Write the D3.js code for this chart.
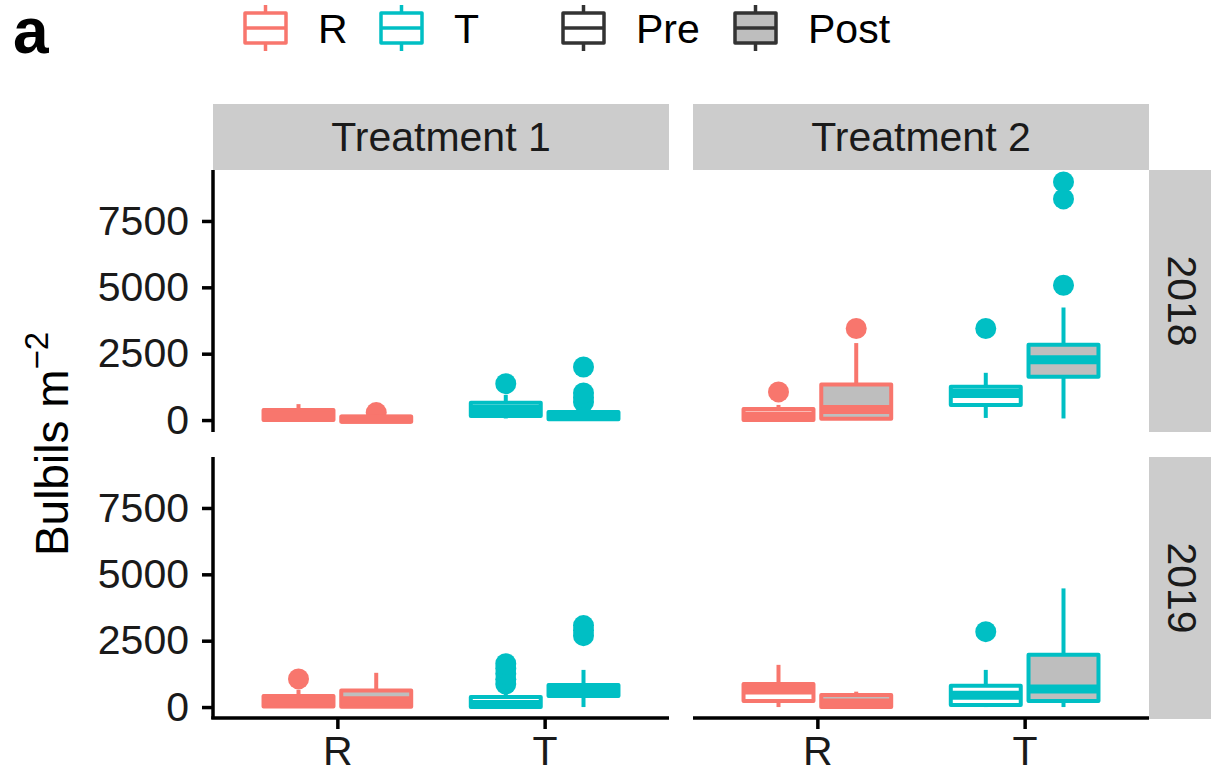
<!DOCTYPE html>
<html>
<head>
<meta charset="utf-8">
<script src="https://cdn.jsdelivr.net/npm/d3@7"></script>
<style>
  html, body { margin: 0; padding: 0; background: #fff; }
  svg { display: block; font-family: "Liberation Sans", Arial, sans-serif; }
</style>
</head>
<body>
<svg id="chart" width="1211" height="777"></svg>
<script>
// categories
const treatments = ["Treatment 1", "Treatment 2"];
const years = ["2018", "2019"];
const sites = ["R", "T"];
const periods = ["Pre", "Post"];
const yTicks = [0, 2500, 5000, 7500];

// box stats: [site, period, min, q1, median, q3, max, outliers]
const t1_2018 = [
  ["R", "Pre", 0, 0, 150, 380, 600, []],
  ["R", "Post", 0, -60, 30, 130, 200, [280]],
  ["T", "Pre", 60, 150, 400, 650, 950, [1370]],
  ["T", "Post", 0, 30, 150, 300, 550, [680, 850, 1020, 2000]]
];
const t2_2018 = [
  ["R", "Pre", 0, 0, 150, 420, 570, [1060]],
  ["R", "Post", 0, 50, 400, 1340, 2900, [3450]],
  ["T", "Pre", 80, 570, 1000, 1250, 1780, [3450]],
  ["T", "Post", 60, 1630, 2270, 2840, 4240, [5080, 8330, 8970]]
];
const t1_2019 = [
  ["R", "Pre", 0, 20, 200, 420, 650, [1060]],
  ["R", "Post", 0, 10, 240, 620, 1290, []],
  ["T", "Pre", 0, 0, 100, 380, 600, [870, 1050, 1250, 1450, 1630]],
  ["T", "Post", 0, 420, 600, 830, 1400, [2690, 2880, 3070]]
];
const t2_2019 = [
  ["R", "Pre", 0, 230, 640, 870, 1590, []],
  ["R", "Post", 0, 0, 150, 450, 580, []],
  ["T", "Pre", 0, 80, 440, 800, 1400, [2840]],
  ["T", "Post", 0, 230, 680, 1970, 4470, []]
];

const panels = [
  { col: 0, row: 0, data: t1_2018 },
  { col: 1, row: 0, data: t2_2018 },
  { col: 0, row: 1, data: t1_2019 },
  { col: 1, row: 1, data: t2_2019 }
];

const siteColor = { R: "#F8766D", T: "#00BFC4" };
const periodFill = { Pre: "#FFFFFF", Post: "#BEBEBE" };

const svg = d3.select("#chart");
const FONT = 41;

// layout
const colX = [213, 693], panelW = 456;
const rowY = [170, 457], panelH = 262;
const stripH = 66, stripW = 66;

// shared y scale, fixed to match the figure's range
const yDomain = [-450, 9420];

// strips
treatments.forEach((t, i) => {
  svg.append("rect")
    .attr("x", colX[i]).attr("y", rowY[0] - stripH)
    .attr("width", panelW).attr("height", stripH)
    .attr("fill", "#CCCCCC");
  svg.append("text")
    .attr("x", colX[i] + panelW / 2).attr("y", rowY[0] - stripH / 2)
    .attr("text-anchor", "middle").attr("dominant-baseline", "central")
    .attr("font-size", FONT).attr("fill", "#1A1A1A")
    .text(t);
});
years.forEach((yr, j) => {
  const sx = colX[1] + panelW;
  svg.append("rect")
    .attr("x", sx).attr("y", rowY[j])
    .attr("width", stripW).attr("height", panelH)
    .attr("fill", "#CCCCCC");
  svg.append("text")
    .attr("transform", `translate(${sx + stripW / 2}, ${rowY[j] + panelH / 2}) rotate(90)`)
    .attr("text-anchor", "middle").attr("dominant-baseline", "central")
    .attr("font-size", FONT).attr("fill", "#1A1A1A")
    .text(yr);
});

// panels
panels.forEach(p => {
  const g = svg.append("g").attr("transform", `translate(${colX[p.col]}, ${rowY[p.row]})`);
  const x = d3.scalePoint().domain(sites).range([0, panelW]).padding(0.6);
  const y = d3.scaleLinear().domain(yDomain).range([panelH, 0]);
  const dodge = d3.scaleBand().domain(periods).range([-0.375 * x.step(), 0.375 * x.step()]);
  const bw = dodge.bandwidth() * 0.9;

  p.data.forEach(d => {
    const [site, period, mn, q1, med, q3, mx, outs] = d;
    const cx = x(site) + dodge(period) + dodge.bandwidth() / 2;
    const col = siteColor[site];

    g.selectAll(null).data(outs).enter().append("circle")
      .attr("cx", cx).attr("cy", v => y(v)).attr("r", 10.5)
      .attr("fill", col);

    g.append("line")
      .attr("x1", cx).attr("x2", cx).attr("y1", y(q3)).attr("y2", y(mx))
      .attr("stroke", col).attr("stroke-width", 4);
    g.append("line")
      .attr("x1", cx).attr("x2", cx).attr("y1", y(q1)).attr("y2", y(mn))
      .attr("stroke", col).attr("stroke-width", 4);

    g.append("rect")
      .attr("x", cx - bw / 2).attr("width", bw)
      .attr("y", y(q3)).attr("height", Math.max(0, y(q1) - y(q3)))
      .attr("fill", periodFill[period])
      .attr("stroke", col).attr("stroke-width", 4)
      .attr("stroke-linejoin", "round");
    g.append("line")
      .attr("x1", cx - bw / 2).attr("x2", cx + bw / 2)
      .attr("y1", y(med)).attr("y2", y(med))
      .attr("stroke", col).attr("stroke-width", 9);
  });

  // y axis on left column
  if (p.col === 0) {
    const ay = g.append("g").call(d3.axisLeft(y).tickValues(yTicks).tickSize(11).tickPadding(13).tickFormat(d3.format("d")));
    ay.select(".domain").attr("d", `M0,0V${panelH}`).attr("stroke", "#000").attr("stroke-width", 3.5);
    ay.selectAll(".tick line").attr("stroke", "#000").attr("stroke-width", 3.5);
    ay.selectAll(".tick text").attr("font-size", FONT).attr("fill", "#1A1A1A")
      .attr("font-family", "Liberation Sans, Arial, sans-serif");
  }
  // x axis on bottom row
  if (p.row === 1) {
    const ax = g.append("g").attr("transform", `translate(0, ${panelH - 1})`)
      .call(d3.axisBottom(x).tickSize(11).tickPadding(7));
    ax.select(".domain").attr("d", `M${p.col === 0 ? -1.75 : 0},0H${panelW}`).attr("stroke", "#000").attr("stroke-width", 3.5);
    ax.selectAll(".tick line").attr("stroke", "#000").attr("stroke-width", 3.5);
    ax.selectAll(".tick text").attr("font-size", FONT).attr("fill", "#1A1A1A")
      .attr("font-family", "Liberation Sans, Arial, sans-serif");
  }
});

// y axis title
const yt = svg.append("text")
  .attr("transform", "translate(68, 444) rotate(-90)")
  .attr("text-anchor", "middle")
  .attr("font-size", 46).attr("fill", "#000");
yt.append("tspan").text("Bulbils m");
yt.append("tspan").attr("dy", -20).attr("font-size", 33).text("\u22122");

// panel tag
svg.append("text")
  .attr("x", 13).attr("y", 53)
  .attr("font-size", 64).attr("font-weight", "bold").attr("fill", "#000")
  .text("a");

// legend
const legendItems = [
  { label: "R", stroke: siteColor.R, fill: "#FFFFFF", x: 243 },
  { label: "T", stroke: siteColor.T, fill: "#FFFFFF", x: 379 },
  { label: "Pre", stroke: "#333333", fill: "#FFFFFF", x: 561 },
  { label: "Post", stroke: "#333333", fill: periodFill.Post, x: 733 }
];
const lg = svg.append("g");
legendItems.forEach(it => {
  const k = lg.append("g").attr("transform", `translate(${it.x}, 0)`);
  const kw = 45, cx = kw / 2;
  k.append("line").attr("x1", cx).attr("x2", cx).attr("y1", 5).attr("y2", 13)
    .attr("stroke", it.stroke).attr("stroke-width", 3.5);
  k.append("line").attr("x1", cx).attr("x2", cx).attr("y1", 43).attr("y2", 51)
    .attr("stroke", it.stroke).attr("stroke-width", 3.5);
  k.append("rect").attr("x", 2).attr("y", 13).attr("width", kw - 4).attr("height", 30)
    .attr("fill", it.fill).attr("stroke", it.stroke).attr("stroke-width", 3.5)
    .attr("stroke-linejoin", "round");
  k.append("line").attr("x1", 2).attr("x2", kw - 2).attr("y1", 28).attr("y2", 28)
    .attr("stroke", it.stroke).attr("stroke-width", 3.5);
  lg.append("text")
    .attr("x", it.x + 75).attr("y", 43)
    .attr("font-size", FONT).attr("fill", "#000")
    .text(it.label);
});
</script>
</body>
</html>
